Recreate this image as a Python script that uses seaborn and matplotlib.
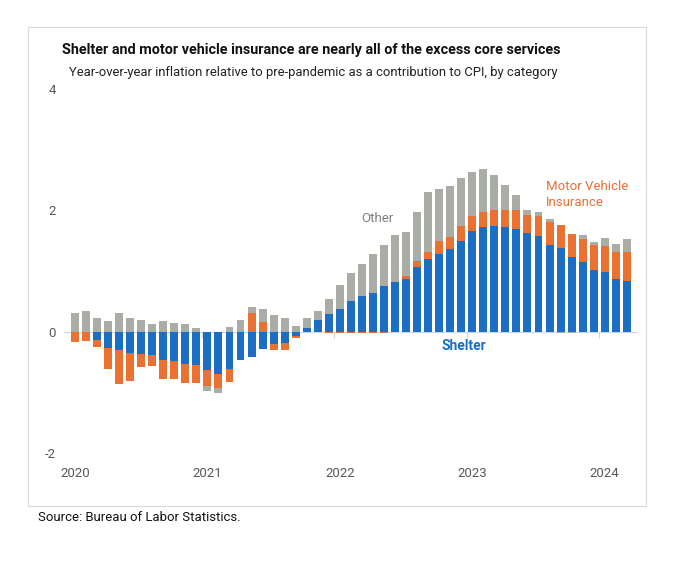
import seaborn as sns, numpy as np, pandas as pd, matplotlib.pyplot as plt
from matplotlib.patches import Rectangle

# monthly, Jan 2020 - Mar 2024
months = pd.date_range('2020-01-01', '2024-03-01', freq='MS')

shelter = [0.00, 0.00, -0.13, -0.27, -0.30, -0.36, -0.37, -0.39, -0.47, -0.48, -0.53, -0.55,
           -0.64, -0.70, -0.61, -0.46, -0.42, -0.29, -0.20, -0.19, -0.07, 0.06, 0.19, 0.29,
           0.37, 0.50, 0.58, 0.64, 0.75, 0.82, 0.87, 1.06, 1.19, 1.28, 1.36, 1.50,
           1.66, 1.72, 1.74, 1.72, 1.70, 1.62, 1.57, 1.43, 1.38, 1.23, 1.15, 1.02,
           0.98, 0.87, 0.84]
motor = [-0.17, -0.16, -0.13, -0.34, -0.56, -0.45, -0.21, -0.18, -0.31, -0.30, -0.32, -0.30,
         -0.26, -0.23, -0.22, 0.00, 0.31, 0.16, -0.11, -0.12, -0.04, 0.00, 0.00, -0.03,
         -0.03, -0.03, -0.03, -0.03, -0.03, 0.00, 0.05, 0.10, 0.12, 0.21, 0.20, 0.25,
         0.25, 0.25, 0.27, 0.29, 0.31, 0.31, 0.34, 0.38, 0.38, 0.38, 0.38, 0.41,
         0.43, 0.44, 0.47]
other = [0.31, 0.34, 0.23, 0.18, 0.31, 0.23, 0.19, 0.13, 0.18, 0.14, 0.13, 0.06,
         -0.08, -0.08, 0.07, 0.20, 0.10, 0.22, 0.27, 0.23, 0.10, 0.17, 0.15, 0.25,
         0.40, 0.46, 0.54, 0.64, 0.68, 0.78, 0.72, 0.81, 1.00, 0.87, 0.84, 0.79,
         0.72, 0.72, 0.58, 0.41, 0.25, 0.07, 0.06, 0.04, -0.03, -0.03, 0.07, 0.05,
         0.13, 0.14, 0.22]

series = ['Shelter', 'Motor Vehicle Insurance', 'Other']
colors = {'Shelter': '#1B6EC2', 'Motor Vehicle Insurance': '#E97132', 'Other': '#AAADA6'}

df = pd.DataFrame({'month': months, 'Shelter': shelter,
                   'Motor Vehicle Insurance': motor, 'Other': other})
df['i'] = np.arange(len(df))

sns.set_theme(style='white')
plt.rcParams['font.family'] = ['Roboto', 'DejaVu Sans']
plt.rcParams['axes.unicode_minus'] = False

fig = plt.figure(figsize=(6.8, 5.64), dpi=100)
ax = fig.add_axes([0.094, 0.197, 0.844, 0.645])

# stack positives upward and negatives downward, shelter closest to zero
pos = np.zeros(len(df))
neg = np.zeros(len(df))
for s in series:
    v = df[s].to_numpy()
    bottom = np.where(v >= 0, pos, neg)
    sns.barplot(x=df['i'], y=v, bottom=bottom, color=colors[s], width=0.72,
                errorbar=None, saturation=1, linewidth=0, ax=ax)
    pos = pos + np.where(v >= 0, v, 0)
    neg = neg + np.where(v < 0, v, 0)

ax.set_xlim(-1, 51)
ax.set_ylim(-2, 4)
ax.set_yticks([-2, 0, 2, 4])
ax.set_yticklabels(['-2', '0', '2', '4'])
ax.tick_params(axis='y', length=0, pad=6, labelsize=9.5, labelcolor='#595959')
ax.set_xlabel('')
ax.set_ylabel('')
for sp in ax.spines.values():
    sp.set_visible(False)

# year labels
jan = df.index[df['month'].dt.month == 1]
ax.set_xticks(jan)
ax.set_xticklabels(df['month'].dt.year[jan].astype(str))
ax.tick_params(axis='x', length=0, pad=10, labelsize=9.5, labelcolor='#595959')

# zero line with year-boundary ticks
ax.axhline(0, color='#C9D7E6', lw=0.8, zorder=0)
sec = ax.secondary_xaxis(1 / 3)
sec.set_xticks(jan[1:] - 0.5)
sec.set_xticklabels([])
sec.tick_params(axis='x', length=4, color='#C9D7E6', width=0.8, direction='out')
for sp in sec.spines.values():
    sp.set_visible(False)

# direct labels
ax.text(27.4, 1.86, 'Other', color='#7F7F7F', fontsize=9.5, ha='center', va='center')
ax.text(42.7, 2.26, 'Motor Vehicle\nInsurance', color='#E97132', fontsize=9.5, ha='left',
        va='center', linespacing=1.35)
ax.text(35.2, -0.24, 'Shelter', color='#1B6EC2', fontsize=10, ha='center', va='center',
        fontweight='bold')

title = fig.text(0.091, 0.912, 'Shelter and motor vehicle insurance are nearly all of the excess core services',
                 fontsize=11, fontweight='bold', color='#111111', va='center')
sub = fig.text(0.101, 0.872, 'Year-over-year inflation relative to pre-pandemic as a contribution to CPI, by category',
               fontsize=10, color='#222222', va='center')
src = fig.text(0.056, 0.083, 'Source: Bureau of Labor Statistics.', fontsize=10, color='#111111', va='center')

# fit the long texts to the widths they take in the reference
renderer = fig.canvas.get_renderer()
for t, w in [(title, 501), (sub, 488), (src, 202)]:
    t.set_fontsize(t.get_fontsize() * w / t.get_window_extent(renderer).width)

fig.patches.append(Rectangle((0.041, 0.103), 0.909, 0.849, transform=fig.transFigure,
                             fill=False, edgecolor='#D9D9D9', lw=0.8))

fig.savefig('out.png', dpi=100)
